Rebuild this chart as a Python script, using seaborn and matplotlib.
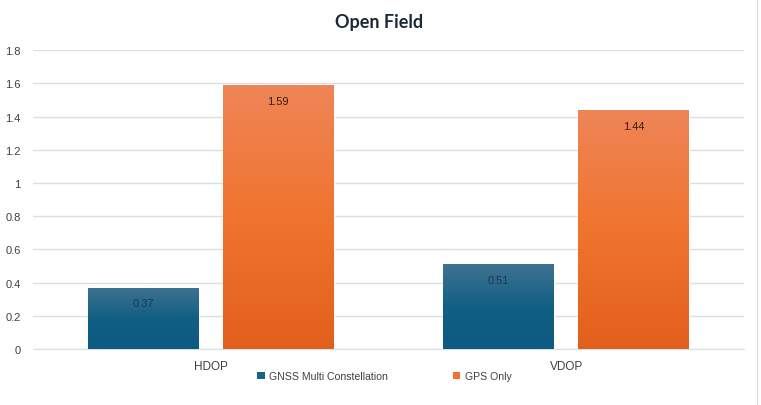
import numpy as np
import pandas as pd
import matplotlib
matplotlib.use("Agg")
import matplotlib.pyplot as plt
from matplotlib.colors import LinearSegmentedColormap
from matplotlib.patches import Patch
from matplotlib.lines import Line2D
import seaborn as sns

# chart data
categories = ["HDOP", "VDOP"]
gnss_multi = [0.37, 0.51]
gps_only = [1.59, 1.44]
series_names = ["GNSS Multi Constellation", "GPS Only"]
y_ticks = [0, 0.2, 0.4, 0.6, 0.8, 1, 1.2, 1.4, 1.6, 1.8]

df = pd.DataFrame({
    "metric": categories * 2,
    "value": gnss_multi + gps_only,
    "series": [series_names[0]] * 2 + [series_names[1]] * 2,
})

sns.set_style("white")
plt.rcParams["font.family"] = ["Liberation Sans", "DejaVu Sans"]

# gradient colours (bottom -> top)
grad = {
    series_names[0]: ["#0c5a80", "#125f84", "#3f7291"],
    series_names[1]: ["#e2601c", "#f0742e", "#ef8558"],
}
solid = {series_names[0]: "#1a6185", series_names[1]: "#ee7230"}
label_col = {series_names[0]: "#1d3650", series_names[1]: "#3a1a0c"}

fig = plt.figure(figsize=(7.61, 4.06), dpi=100)
ax = fig.add_axes([0.0434, 0.138, 0.934, 0.736])

sns.barplot(data=df, x="metric", y="value", hue="series", hue_order=series_names,
            palette=solid, width=0.76, gap=0.18, legend=False, ax=ax,
            zorder=2)

ax.set_xlim(-0.5, 1.5)
ax.set_ylim(0, 1.8)

# gradient fill clipped to each bar
for name, cont in zip(series_names, ax.containers):
    cmap = LinearSegmentedColormap.from_list(name, grad[name])
    for bar in cont:
        x0, y0 = bar.get_x(), bar.get_y()
        w, h = bar.get_width(), bar.get_height()
        img = ax.imshow(np.linspace(0, 1, 256).reshape(-1, 1), cmap=cmap,
                        aspect="auto", origin="lower",
                        extent=[x0, x0 + w, y0, y0 + h], zorder=3)
        img.set_clip_path(bar)
    ax.bar_label(cont, labels=[f"{v:.2f}" for v in cont.datavalues],
                 padding=-15, fontsize=8, color=label_col[name], zorder=5)

ax.set_xlim(-0.5, 1.5)
ax.set_ylim(0, 1.8)

ax.set_yticks(y_ticks)
ax.set_yticklabels([f"{t:g}" for t in y_ticks])
ax.yaxis.grid(True, color="#d7e0e7", linewidth=1)
ax.set_axisbelow(True)
ax.tick_params(axis="both", length=0, labelsize=8, colors="#404040")
ax.tick_params(axis="y", pad=9)
ax.tick_params(axis="x", pad=8, labelsize=8.5)
ax.set_xlabel("")
ax.set_ylabel("")
for s in ["top", "right", "left"]:
    ax.spines[s].set_visible(False)
ax.spines["bottom"].set_color("#d7e0e7")

fig.text(0.498, 0.945, "Open Field", ha="center", va="center",
         fontsize=13, fontweight="bold", color="#1b2838",
         family=["Lato", "DejaVu Sans"])

handles = [Patch(facecolor=solid[n], edgecolor="none") for n in series_names]
fig.legend(handles, series_names, loc="center", bbox_to_anchor=(0.505, 0.071),
           ncol=2, frameon=False, fontsize=7.6, handlelength=0.7,
           handleheight=0.7, handletextpad=0.4, columnspacing=6.2,
           labelcolor="#404040")

# faint sheet border on the right like the screenshot
fig.add_artist(Line2D([0.995, 0.995], [0, 1], color="#d9dfe5", linewidth=1))

fig.savefig("out.png", dpi=100, facecolor="white")
